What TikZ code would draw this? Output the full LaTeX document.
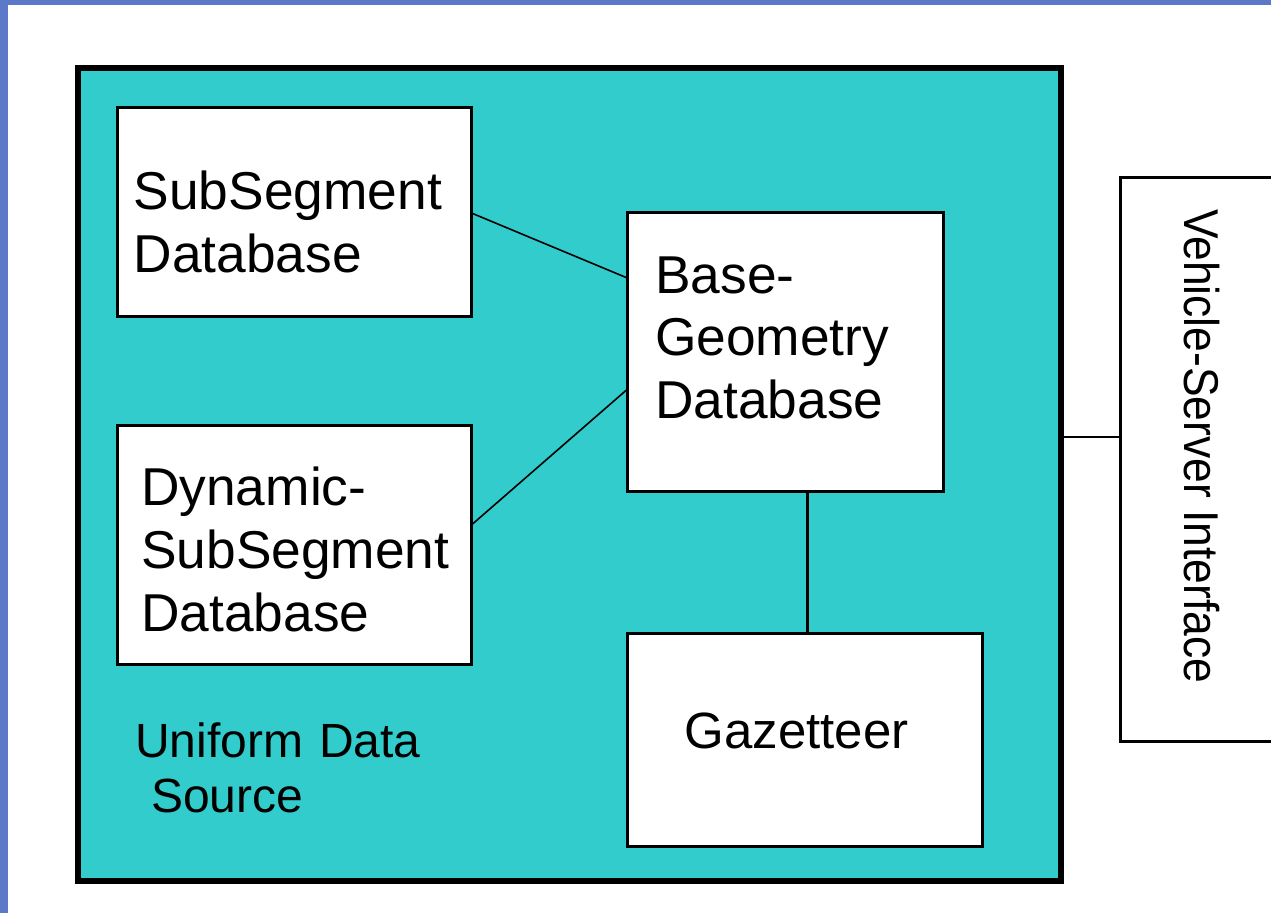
\documentclass[tikz,border=0pt]{standalone}
\usepackage{fontspec}
\setmainfont{Liberation Sans}
\usetikzlibrary{calc}
\definecolor{frameblue}{RGB}{92,120,201}
\definecolor{udsteal}{RGB}{51,204,204}
\tikzset{
  box/.style={draw=black, line width=3pt, fill=white, rectangle, inner sep=0pt, outer sep=0pt, anchor=north west},
  boxtext/.style={anchor=base west, inner sep=0pt, align=left, text width=#1,
    font=\fontsize{53.3}{63}\selectfont},
  boxtext/.default=350pt,
  thin link/.style={line width=1.6pt},
  thick link/.style={line width=3pt}
}
\begin{document}
\begin{tikzpicture}[x=1pt,y=-1pt]
\useasboundingbox (0,0) rectangle (1271,913);
\clip (0,0) rectangle (1271,913);
\fill[white] (0,0) rectangle (1271,913);
% slide frame
\fill[frameblue] (0,0) rectangle (1271,5);
\fill[frameblue] (0,0) rectangle (8,913);

% uniform data source container
\node[box, fill=udsteal, line width=6pt, minimum width=983pt, minimum height=813pt] (uds) at (78,68) {};

% databases
\node[box, minimum width=354pt, minimum height=209pt] (sub) at (117.5,107.5) {};
\node[box, minimum width=354pt, minimum height=239pt] (dyn) at (117.5,425) {};
\node[box, minimum width=315.5pt, minimum height=279pt] (base) at (627.5,212.5) {};
\node[box, minimum width=354.5pt, minimum height=213pt] (gaz) at (627.5,633) {};
\node[box, minimum width=200pt, minimum height=564pt] (vif) at (1120.5,177.5) {};

% links
\draw[thin link] ($(sub.north east)!0.505!(sub.south east)$) -- ($(base.north west)!0.235!(base.south west)$);
\draw[thin link] ($(dyn.north east)!0.418!(dyn.south east)$) -- ($(base.north west)!0.633!(base.south west)$);
\coordinate (bg) at ($(base.south west)!0.572!(base.south east)$);
\draw[thick link] (bg) -- (bg |- gaz.north);
\coordinate (vl) at ($(vif.north west)!0.46!(vif.south west)$);
\draw[thin link] (vl) -- (vl -| uds.east);

% texts
\node[boxtext] (subtext) at (133.5,209) {SubSegment\\Database};
\node[boxtext] (dyntext) at (141,505) {\fontsize{53.3}{63.5}\selectfont Dynamic-\\SubSegment\\Database};
\node[boxtext] (basetext) at (655,293) {\fontsize{53.3}{62.5}\selectfont Base-\\Geometry\\Database};
\node[boxtext, font=\fontsize{51}{60}\selectfont] (gaztext) at (684.5,748) {Gazetteer};
\node[boxtext, font=\fontsize{48}{55}\selectfont] (udstext) at (135,757) {Uniform Data\\\hspace*{16pt}Source};
\node[anchor=base west, inner sep=0pt, rotate=-90, yscale=1.1, font=\fontsize{44.4}{50}\selectfont] (viftext) at (1184,209) {Vehicle-Server Interface};
\end{tikzpicture}
\end{document}
